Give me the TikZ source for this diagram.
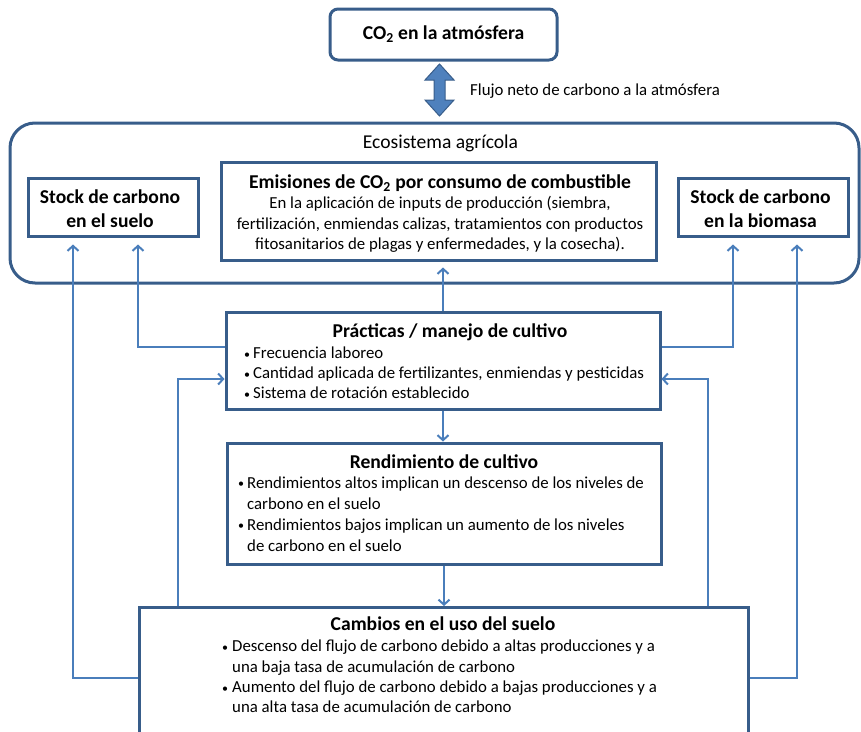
\documentclass[tikz,border=0pt]{standalone}
\usepackage{fontspec}
\setmainfont{Carlito}
\usetikzlibrary{arrows.meta}
\definecolor{boxblue}{HTML}{385D8A}
\definecolor{lineblue}{HTML}{4A7EBB}
\definecolor{fillblue}{HTML}{4F81BD}
\newcommand{\mybul}{\raisebox{0.5pt}{\fontsize{12}{12}\selectfont\textbullet}}
\begin{document}
\begin{tikzpicture}[x=1pt,y=-1pt,
  box/.style={draw=boxblue,line width=3pt,fill=white,inner sep=0pt},
  conn/.style={draw=lineblue,line width=2pt},
  arr/.style={conn,-{Straight Barb[length=5pt,width=11pt,line width=2pt]}},
  ttl/.style={font=\fontsize{19.6}{23}\selectfont\bfseries,inner sep=0pt},
  bodytxt/.style={font=\fontsize{16.8}{21}\selectfont,inner sep=0pt},
]
\useasboundingbox (0,0) rectangle (861,731);

% boxes
\node[box,rounded corners=8pt,minimum width=227pt,minimum height=51pt,ttl] (co2) at (443.5,34.5) {CO\textsubscript{2} en la atmósfera};
\node[draw=boxblue,line width=3pt,rounded corners=25pt,minimum width=849pt,minimum height=160pt,inner sep=0pt] (eco) at (434.5,203) {};
\node[box,minimum width=170pt,minimum height=58pt] (soil) at (113,207) {};
\node[box,minimum width=435pt,minimum height=98pt] (emis) at (438.5,211) {};
\node[box,minimum width=170pt,minimum height=58pt] (bio) at (763,207) {};
\node[box,minimum width=434pt,minimum height=97pt] (prac) at (443,360.5) {};
\node[box,minimum width=434pt,minimum height=121pt] (rend) at (444,503.5) {};
\node[box,minimum width=609pt,minimum height=160pt,anchor=north] (camb) at (443.5,606) {};

% double arrow
\draw[fill=fillblue,draw=boxblue,line width=1pt]
  (439.5,64) -- (454,80) -- (445,80) -- (445,100) -- (454,100) -- (439.5,116)
  -- (425,100) -- (434,100) -- (434,80) -- (425,80) -- cycle;
\node[bodytxt,anchor=base west] (flujo) at (470,95) {Flujo neto de carbono a la atmósfera};

% texts
\node[font=\fontsize{19.6}{23}\selectfont,inner sep=0pt,anchor=base] (ecot) at (440.5,148) {Ecosistema agrícola};
\node[ttl,anchor=base] (soil1) at (110,203) {Stock de carbono};
\node[ttl,anchor=base] (soil2) at (110,227) {en el suelo};
\node[ttl,anchor=base] (bio1) at (760.5,203) {Stock de carbono};
\node[ttl,anchor=base] (bio2) at (760.5,227) {en la biomasa};

\node[ttl,anchor=base] (emis0) at (440,188) {Emisiones de CO\textsubscript{2} por consumo de combustible};
\node[bodytxt,anchor=base] (emis1) at (440,208) {En la aplicación de inputs de producción (siembra,};
\node[bodytxt,anchor=base] (emis2) at (440,229) {fertilización, enmiendas calizas, tratamientos con productos};
\node[bodytxt,anchor=base] (emis3) at (440,249) {fitosanitarios de plagas y enfermedades, y la cosecha).};

\node[ttl,anchor=base] (prac0) at (450,337) {Prácticas / manejo de cultivo};
\foreach \yy/\tt [count=\i] in {358.5/Frecuencia laboreo,378.5/{Cantidad aplicada de fertilizantes, enmiendas y pesticidas},398.5/Sistema de rotación establecido}{
  \node[bodytxt,anchor=base west] (pb\i) at (244,\yy) {\mybul};
  \node[bodytxt,anchor=base west] (pt\i) at (253,\yy) {\tt};
}

\node[ttl,anchor=base] (rend0) at (444,468) {Rendimiento de cultivo};
\node[bodytxt,anchor=base west] (rb1) at (238,488) {\mybul};
\node[bodytxt,anchor=base west] (rt1) at (247,488) {Rendimientos altos implican un descenso de los niveles de};
\node[bodytxt,anchor=base west] (rt2) at (247,509) {carbono en el suelo};
\node[bodytxt,anchor=base west] (rb3) at (238,530) {\mybul};
\node[bodytxt,anchor=base west] (rt3) at (247,530) {Rendimientos bajos implican un aumento de los niveles};
\node[bodytxt,anchor=base west] (rt4) at (247,551) {de carbono en el suelo};

\node[ttl,anchor=base] (camb0) at (443,630) {Cambios en el uso del suelo};
\node[bodytxt,anchor=base west] (cb1) at (222,651.5) {\mybul};
\node[bodytxt,anchor=base west] (ct1) at (232,651.5) {Descenso del flujo de carbono debido a altas producciones y a};
\node[bodytxt,anchor=base west] (ct2) at (232,672) {una baja tasa de acumulación de carbono};
\node[bodytxt,anchor=base west] (cb3) at (222,692.5) {\mybul};
\node[bodytxt,anchor=base west] (ct3) at (232,692.5) {Aumento del flujo de carbono debido a bajas producciones y a};
\node[bodytxt,anchor=base west] (ct4) at (232,712.5) {una alta tasa de acumulación de carbono};

% connectors
\draw[arr] (prac.north) -- ([yshift=-6pt]prac.north |- emis.south);
\draw[arr] ([yshift=13.5pt]prac.west) -| ([xshift=25pt,yshift=-7pt]soil.south);
\draw[arr] ([yshift=13.5pt]prac.east) -| ([xshift=-30pt,yshift=-7pt]bio.south);
\draw[arr] ([yshift=10pt]camb.west) -| ([xshift=-40pt,yshift=-7pt]soil.south);
\draw[arr] ([yshift=10pt]camb.east) -| ([xshift=34pt,yshift=-7pt]bio.south);
\draw[arr] ([xshift=-265.5pt]camb.north) |- ([yshift=-18.5pt]prac.west);
\draw[arr] ([xshift=264.5pt]camb.north) |- ([yshift=-18.5pt]prac.east);
\draw[arr] (prac.south) -- (prac.south |- rend.north);
\draw[arr] (rend.south) -- (rend.south |- camb.north);
\end{tikzpicture}
\end{document}
